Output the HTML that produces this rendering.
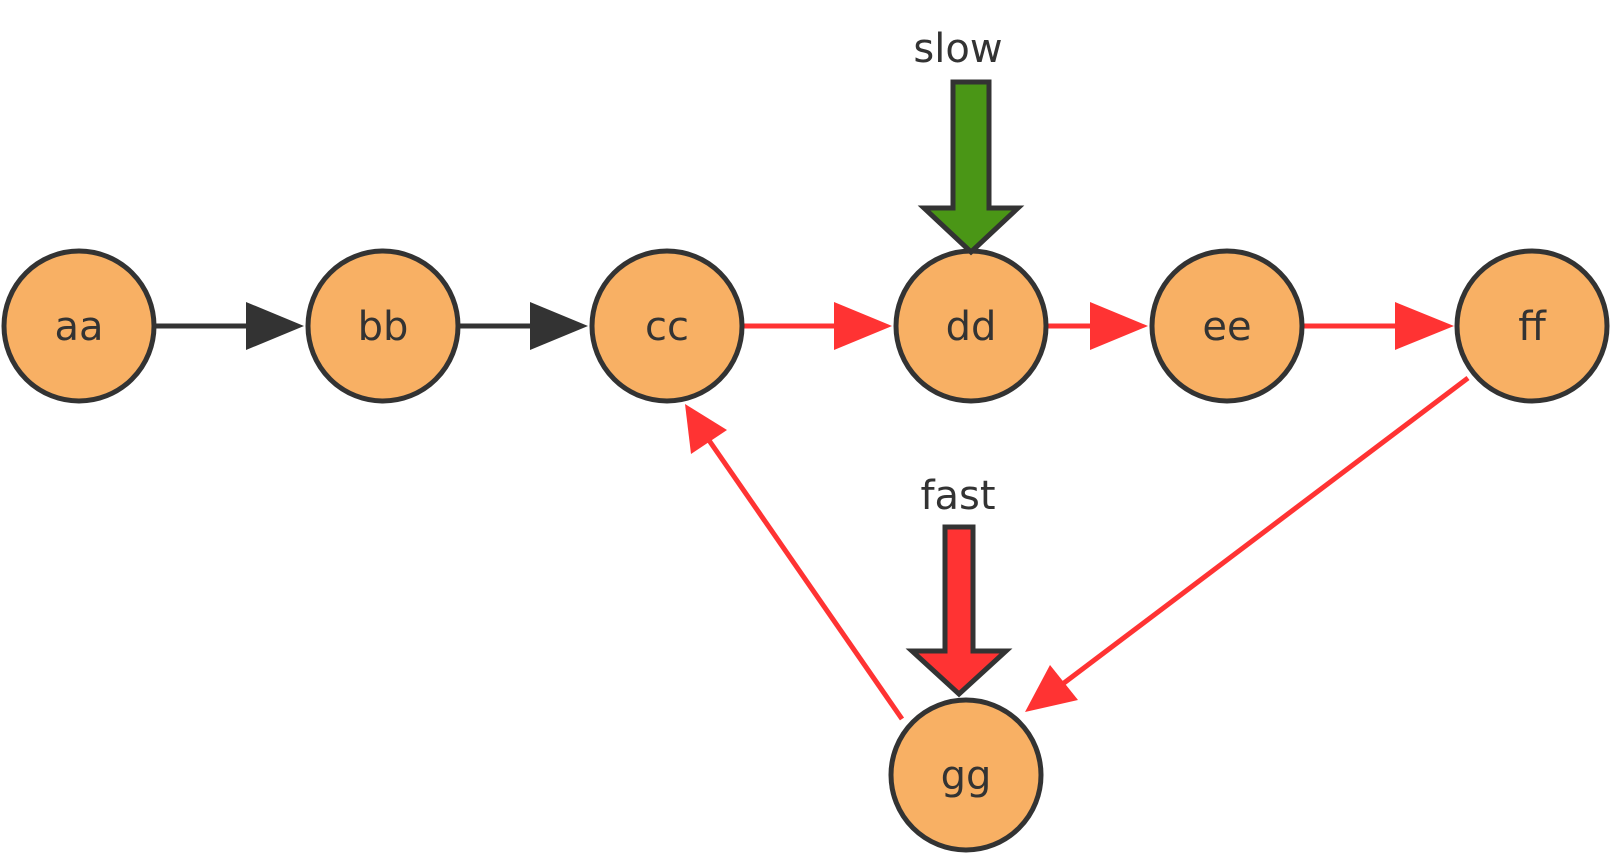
<!DOCTYPE html>
<html><head><meta charset="utf-8"><style>
html,body{margin:0;padding:0;background:#fff;width:1616px;height:862px;overflow:hidden}
</style></head><body>
<svg width="1616" height="862" viewBox="0 0 1616 862" xmlns="http://www.w3.org/2000/svg">
<defs>
<marker id="bk" markerWidth="14" markerHeight="12" refX="14" refY="6" orient="auto" markerUnits="userSpaceOnUse" viewBox="0 0 14 12"><path d="M0,0 L14,6 L0,12 Z" fill="#333"/></marker>
<marker id="rd" markerWidth="14" markerHeight="12" refX="14" refY="6" orient="auto" markerUnits="userSpaceOnUse" viewBox="0 0 14 12"><path d="M0,0 L14,6 L0,12 Z" fill="#f33"/></marker>
</defs>
<g stroke-width="5" fill="none">
<line x1="155" y1="326" x2="248" y2="326" stroke="#333"/>
<path d="M246,302 L304,326 L246,350 Z" fill="#333" stroke="none"/>
<line x1="460" y1="326" x2="532" y2="326" stroke="#333"/>
<path d="M530,302 L588,326 L530,350 Z" fill="#333" stroke="none"/>
<line x1="744" y1="326" x2="838" y2="326" stroke="#f33"/>
<path d="M834,302 L892,326 L834,350 Z" fill="#f33" stroke="none"/>
<line x1="1048" y1="326" x2="1094" y2="326" stroke="#f33"/>
<path d="M1090,302 L1148,326 L1090,350 Z" fill="#f33" stroke="none"/>
<line x1="1304" y1="326" x2="1398" y2="326" stroke="#f33"/>
<path d="M1395,302 L1454,326 L1395,350 Z" fill="#f33" stroke="none"/>
<line x1="1468" y1="378" x2="1060" y2="686" stroke="#f33"/>
<path d="M1025,712 L1050,665 L1078,700 Z" fill="#f33" stroke="none"/>
<line x1="902" y1="719" x2="706" y2="436" stroke="#f33"/>
<path d="M685,404 L727,430 L691,454 Z" fill="#f33" stroke="none"/>
</g>
<g fill="#f8b064" stroke="#333" stroke-width="5">
<circle cx="79" cy="326" r="75"/>
<circle cx="383" cy="326" r="75"/>
<circle cx="667" cy="326" r="75"/>
<circle cx="971" cy="326" r="75"/>
<circle cx="1227" cy="326" r="75"/>
<circle cx="1532" cy="326" r="75"/>
<circle cx="966" cy="775" r="75"/>
</g>
<path d="M953,82 L989,82 L989,208 L1018,208 L971,252 L924,208 L953,208 Z" fill="#4a9616" stroke="#333" stroke-width="5" stroke-linejoin="miter"/>
<path d="M945,527 L973,527 L973,651 L1006,651 L959,694 L912,651 L945,651 Z" fill="#f33" stroke="#333" stroke-width="5"/>
<g font-family="'DejaVu Sans','Liberation Sans',sans-serif" font-size="40" fill="#333" text-anchor="middle">
<text x="79" y="340">aa</text>
<text x="383" y="340">bb</text>
<text x="667" y="340">cc</text>
<text x="971" y="340">dd</text>
<text x="1227" y="340">ee</text>
<text x="1532" y="340">ff</text>
<text x="966" y="789">gg</text>
<text x="958" y="62">slow</text>
<text x="958" y="509">fast</text>
</g>
</svg>
</body></html>
